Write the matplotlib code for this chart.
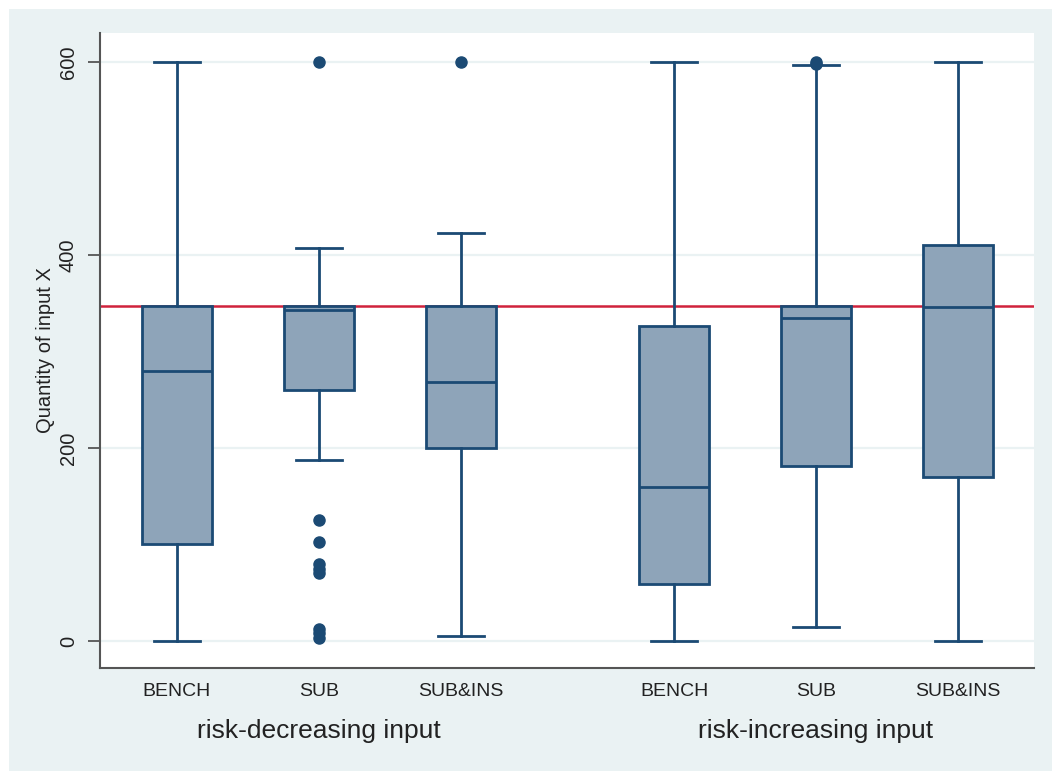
import matplotlib
matplotlib.use("Agg")
import matplotlib.pyplot as plt
from matplotlib.patches import Rectangle
from matplotlib.transforms import blended_transform_factory

plt.rcParams['font.family'] = ['Liberation Sans', 'DejaVu Sans']

# box statistics (Stata-style boxplot)
labels = ["BENCH", "SUB", "SUB&INS", "BENCH", "SUB", "SUB&INS"]
positions = [1, 2, 3, 4.5, 5.5, 6.5]
q1 = [100, 260, 200, 59, 181, 170]
med = [280, 343, 268, 160, 335, 346]
q3 = [347, 347, 347, 326, 347, 410]
whislo = [0, 188, 5, 0, 14, 0]
whishi = [600, 407, 423, 600, 597, 600]
fliers = [[], [600, 125, 103, 80, 75, 70, 12, 8, 3], [600], [], [600, 598], []]

groups = ["risk-decreasing input", "risk-increasing input"]
group_pos = [2, 5.5]
ref_line = 347

navy = "#1B4A74"
fill = "#8EA4B9"
bg = "#EAF2F3"

fig = plt.figure(figsize=(10.52, 7.71), dpi=100)
fig.patch.set_facecolor("white")
fig.patches.append(Rectangle((9 / 1052, 0), 1, 1 - 9 / 771, transform=fig.transFigure,
                             facecolor=bg, edgecolor="none", zorder=-10))

ax = fig.add_axes([100 / 1052, 103 / 771, 934 / 1052, 635 / 771])
ax.set_facecolor("white")

stats = []
for i in range(len(labels)):
    stats.append(dict(med=med[i], q1=q1[i], q3=q3[i], whislo=whislo[i],
                      whishi=whishi[i], fliers=fliers[i], label=labels[i]))

ax.bxp(stats, positions=positions, widths=0.49, patch_artist=True,
       showfliers=True, capwidths=0.32,
       boxprops=dict(facecolor=fill, edgecolor=navy, linewidth=2),
       medianprops=dict(color=navy, linewidth=2),
       whiskerprops=dict(color=navy, linewidth=2),
       capprops=dict(color=navy, linewidth=2),
       flierprops=dict(marker="o", markerfacecolor=navy, markeredgecolor=navy,
                       markersize=8))

ax.axhline(ref_line, color="#D0223C", linewidth=1.8, zorder=1.5)

ax.set_ylim(-28, 630)
ax.set_xlim(0.458, 7.035)
ax.set_yticks([0, 200, 400, 600])
ax.set_yticklabels(["0", "200", "400", "600"], rotation=90, va="center", fontsize=14.5)
ax.yaxis.grid(True, color=bg, linewidth=1.6, zorder=0)
ax.set_axisbelow(True)

ax.set_xticks(positions)
ax.set_xticklabels(labels, fontsize=14, color="#222222")
ax.tick_params(axis="x", length=0, pad=11)
ax.tick_params(axis="y", length=9, width=1.3, color="#555555", pad=7, labelcolor="#222222")

ax.set_ylabel("Quantity of input X", fontsize=14.5, color="#222222", labelpad=3)

for s in ["top", "right"]:
    ax.spines[s].set_visible(False)
for s in ["left", "bottom"]:
    ax.spines[s].set_color("#555555")
    ax.spines[s].set_linewidth(1.5)

trans = blended_transform_factory(ax.transData, ax.transAxes)
for g, p in zip(groups, group_pos):
    ax.text(p, -0.099, g, transform=trans, ha="center", va="center",
            fontsize=19, color="#222222")

fig.savefig("out.png", dpi=100, facecolor=fig.get_facecolor())
